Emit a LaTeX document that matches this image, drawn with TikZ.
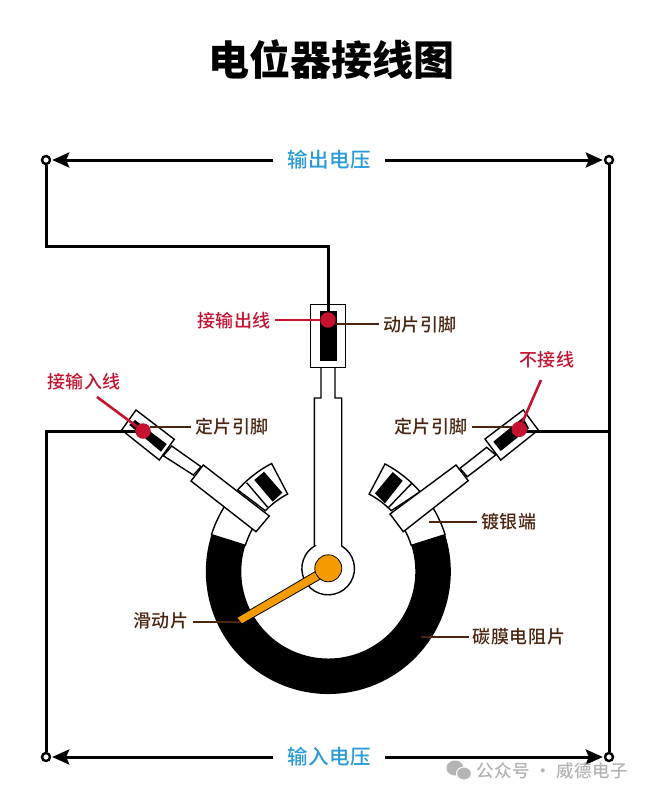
\documentclass[tikz,border=0pt]{standalone}
\usepackage{fontspec}
\setmainfont{Noto Sans CJK SC}
\newfontfamily\labelfont[LetterSpace=3]{Noto Sans CJK SC Medium}
\usetikzlibrary{arrows.meta, calc}
\pgfdeclarelayer{front}
\pgfsetlayers{main,front}
\definecolor{pinred}{HTML}{C4122F}
\definecolor{notebrown}{HTML}{4A2511}
\definecolor{voltblue}{HTML}{2A9BD8}
\definecolor{wiperorange}{HTML}{F39B00}
\definecolor{markgray}{HTML}{B4B4B4}
\tikzset{
	outline/.style={draw=black, line width=1.4pt, fill=white},
	wire/.style={black, line width=3pt},
	port/.style={circle, draw=black, fill=white, line width=2.4pt, inner sep=0pt, minimum size=8pt},
	voltage/.style={text=voltblue, font=\labelfont\fontsize{20.5}{22}\selectfont, inner xsep=14pt},
	volttip/.style={wire, -{Stealth[length=17pt,width=15pt,inset=3pt]}, shorten >=1pt},
	redlabel/.style={text=pinred, font=\labelfont\fontsize{18}{20}\selectfont, inner sep=4pt},
	brownlabel/.style={text=notebrown, font=\labelfont\fontsize{18}{20}\selectfont, inner sep=4pt},
	reddot/.style={circle, fill=pinred, inner sep=0pt, minimum size=15.5pt},
	redline/.style={pinred, line width=2.6pt},
	brownline/.style={notebrown, line width=2.6pt},
}
\begin{document}
\begin{tikzpicture}[x=1pt, y=-1pt]
	
	\useasboundingbox (0,0) rectangle (649,798);
	\coordinate (hub) at (328.3,571.5);
	
	% Title
	\node (title) at (331,60) {\fontsize{41}{43}\selectfont\bfseries 电位器接线图};
	
	%% SILVER ENDS
	\foreach \a/\b in {197.5/216, -17.5/-36}
	{
		\draw [outline] (hub) ++(\a:122.5) arc [start angle=\a, end angle=\b, radius=122.5]
			-- ($(hub)+(\b:87)$) arc [start angle=\b, end angle=\a, radius=87] -- cycle;
	}
	
	% Carbon film
	\fill [black] (hub) ++(-17.5:122.5) arc [start angle=-17.5, end angle=197.5, radius=122.5]
		-- ($(hub)+(197.5:87)$) arc [start angle=197.5, end angle=-17.5, radius=87] -- cycle;
	
	%% LEFT PIN
	
	% Tab
	\draw [outline] (hub) ++(222:122) arc [start angle=222, end angle=242.3, radius=122]
		-- ($(hub)+(242.3:87.5)$) arc [start angle=242.3, end angle=224, radius=87.5] -- cycle;
	\draw [outline] (246.7,482.7) -- (267.7,507.3);
	\fill [black] (264,471.7) -- (282.3,492.7) -- (272.7,501.7) -- (254.3,480) -- cycle;
	
	% Shaft and body
	\draw [outline] (171.7,446) -- (201,466.7) -- (193.3,475) -- (163.3,455.7) -- cycle;
	\draw [outline] (203.3,465) -- (269.3,516) -- (256,531.7) -- (191,481) -- cycle;
	
	% Terminal
	\draw [outline] (136,410) -- (174.3,439.3) -- (159.3,460) -- (121.7,430) -- cycle;
	\fill [black] (135,420) -- (166.7,444) -- (161,451.7) -- (129.3,425) -- cycle;
	
	%% RIGHT PIN
	
	% Tab
	\draw [outline] (hub) ++(-62.2:121.6) arc [start angle=-62.2, end angle=-41, radius=121.6]
		-- ($(hub)+(-44:87.5)$) arc [start angle=-44, end angle=-62.2, radius=87.5] -- cycle;
	\draw [outline] (388.3,507.7) -- (411.7,483.3);
	\fill [black] (392.7,472) -- (402.7,480.7) -- (385,503.3) -- (375,493.3) -- cycle;
	
	% Shaft and body
	\draw [outline] (460,468.3) -- (486.7,447.3) -- (495.7,455) -- (467.3,476.7) -- cycle;
	\draw [outline] (456,465) -- (468.3,480.7) -- (403.3,531.7) -- (390,514) -- cycle;
	
	% Terminal
	\draw [outline] (523.3,410) -- (538.3,430) -- (500.7,460) -- (485,439) -- cycle;
	\fill [black] (523.3,417.3) -- (529,428.3) -- (500.7,451) -- (493.3,441.7) -- cycle;
	
	%% MOVING PIN
	\draw [outline] (314.3,546) -- (314.3,398) -- (321,398) -- (321,367) -- (335,367) -- (335,398)
		-- (341.7,398) -- (341.7,546) arc [start angle=-59, end angle=239, radius=26.3] -- cycle;
	\draw [outline] (310.7,304.3) rectangle (345.7,367.3);
	\fill [black] (320,311) rectangle (336.5,360.5);
	
	% Wiper
	\draw [black, line width=0.8pt, fill=wiperorange] (315,571.7) -- (320,579.3) -- (241.7,624) -- (236.7,617.7) -- cycle;
	\node [circle, draw=black, line width=0.8pt, fill=wiperorange, inner sep=0pt, minimum size=27pt] (wiper) at (328.3,568.3) {};
	\fill [wiperorange] (316.5,573) -- (319.5,577.5) -- (326,575) -- (324,567) -- cycle;
	
	%% WIRES
	
	\node [port] (portTL) at (46,160) {};
	\node [port] (portTR) at (609,160) {};
	\node [port] (portBL) at (46,757) {};
	\node [port] (portBR) at (609,757) {};
	
	% Red dots stay over the wires
	\begin{pgfonlayer}{front}
		\node [reddot] (dotOut) at (328,320) {};
		\node [reddot] (dotIn) at (143,431) {};
		\node [reddot] (dotNone) at (519.3,429.3) {};
	\end{pgfonlayer}
	\coordinate (bendTop) at (328,246);
	\coordinate (termNone) at (519.3,431);
	\coordinate (joinNone) at (609,431);
	
	\draw [wire] (portTL) |- (bendTop) -- (dotOut.center);
	\draw [wire] (portBL) |- (dotIn.center);
	\draw [wire] (portTR) -- (portBR);
	\draw [wire] (termNone) -- (joinNone);
	
	%% VOLTAGE ARROWS
	
	\node [voltage] (voltOut) at (329,160) {输出电压};
	\node [voltage] (voltIn) at (329,757) {输入电压};
	\foreach \v/\p/\q in {voltOut/portTL/portTR, voltIn/portBL/portBR}
	{
		\draw [volttip] (\v) -- (\p);
		\draw [volttip] (\v) -- (\q);
	}
	
	%% LABELS
	
	\node [brownlabel] (noteWiperPin) at (420,325) {动片引脚};
	\node [brownlabel] (noteFixL) at (232,427) {定片引脚};
	\node [brownlabel] (noteFixR) at (431,427) {定片引脚};
	\node [brownlabel] (noteSilver) at (509,522) {镀银端};
	\node [brownlabel] (noteFilm) at (519,637) {碳膜电阻片};
	\node [brownlabel] (noteWiper) at (161,621) {滑动片};
	
	\coordinate (endWiperPin) at (335,324);
	\coordinate (endFixL) at (150,427);
	\coordinate (endFixR) at (519,427);
	\coordinate (endSilver) at (429,522);
	\coordinate (endFilm) at (421,637);
	\coordinate (endWiper) at (240,622);
	
	\draw [brownline] (endWiperPin) -- (endWiperPin -| noteWiperPin.west);
	\draw [brownline] (endFixL) -- (endFixL -| noteFixL.west);
	\draw [brownline] (endFixR) -- (endFixR -| noteFixR.east);
	\draw [brownline] (endSilver) -- (endSilver -| noteSilver.west);
	\draw [brownline] (endFilm) -- (endFilm -| noteFilm.west);
	\draw [brownline] (endWiper) -- (endWiper -| noteWiper.east);
	
	\node [redlabel] (noteOut) at (234,321) {接输出线};
	\node [redlabel] (noteIn) at (84,382) {接输入线};
	\node [redlabel] (noteNone) at (547,360) {不接线};
	\coordinate (startIn) at (97,397);
	\coordinate (startNone) at (541,380);
	
	\draw [redline] (noteOut.east |- dotOut) -- (dotOut);
	\draw [redline] (startIn) -- (dotIn);
	\draw [redline] (startNone) -- (dotNone);
	
	% Mark
	\fill [markgray] (455,768) ellipse [x radius=8.5, y radius=7.5];
	\draw [fill=markgray, draw=white, line width=1pt] (464,773.5) ellipse [x radius=7.5, y radius=6.5];
	\node [text=markgray, font=\labelfont\fontsize{17.5}{19}\selectfont] (mark) at (552,771) {公众号 · 威德电子};
	
\end{tikzpicture}
\end{document}
